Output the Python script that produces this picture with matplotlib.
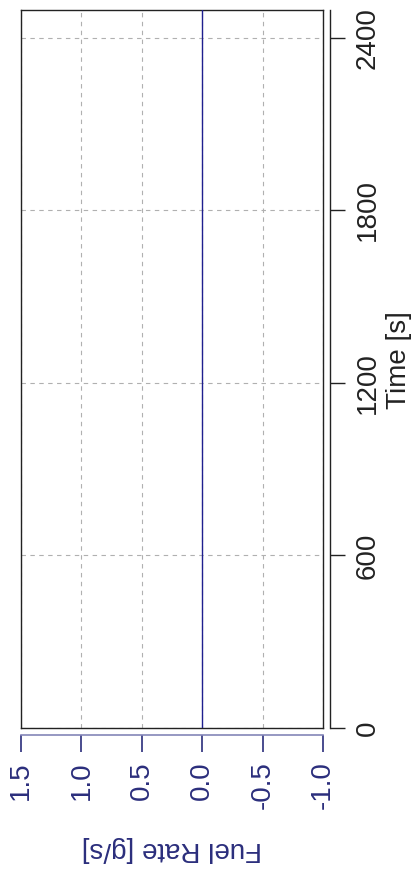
import matplotlib
matplotlib.use("Agg")
import matplotlib.pyplot as plt
import numpy as np

plt.rcParams['font.family'] = ['Liberation Sans', 'DejaVu Sans']

# Data
time_s = [0, 2500]
fuel_rate = [0.0, 0.0]
time_ticks = [0, 600, 1200, 1800, 2400]
fuel_ticks = [1.5, 1.0, 0.5, 0.0, -0.5, -1.0]
fuel_ticklabels = ["1.5", "1.0", "0.5", "0.0", "-0.5", "-1.0"]

W, H = 414, 874
fig = plt.figure(figsize=(W / 100, H / 100), dpi=100)

L, R, T, B = 21, 323, 10, 728
pos = [L / W, (H - B) / H, (R - L) / W, (B - T) / H]

navy = '#2b2e7c'

ax = fig.add_axes(pos)
ax.plot(fuel_rate, time_s, color='#1f1f8f', lw=1.0, zorder=3)
ax.set_xlim(1.5, -1.0)
ax.set_ylim(0, 2497)
ax.set_xticks(fuel_ticks)
ax.set_yticks(time_ticks)
ax.grid(True, color='#b0b0b0', ls=(0, (4, 4)), lw=0.8)
ax.tick_params(length=0, labelbottom=False, labelleft=False)
for s in ax.spines.values():
    s.set_color('#222222')
    s.set_linewidth(1.0)

# detached axes
ax2 = fig.add_axes(pos, sharex=ax, sharey=ax)
ax2.patch.set_visible(False)
for k in ['left', 'top']:
    ax2.spines[k].set_visible(False)
ax2.spines['bottom'].set_position(('outward', 5.0))
ax2.spines['bottom'].set_color('#8486b8')
ax2.spines['bottom'].set_linewidth(1.2)
ax2.spines['right'].set_position(('outward', 5.0))
ax2.spines['right'].set_color('#222222')
ax2.spines['right'].set_linewidth(1.0)
ax2.yaxis.set_ticks_position('right')
ax2.set_xticks(fuel_ticks)
ax2.set_xticklabels(fuel_ticklabels)
ax2.set_yticks(time_ticks)
ax2.set_yticklabels([str(t) for t in time_ticks])
ax2.tick_params(axis='x', direction='out', length=12, width=1.2, color=navy,
                labelcolor=navy, labelsize=20, pad=7, labelrotation=90)
ax2.tick_params(axis='y', direction='out', length=11, width=1.0, color='#222222',
                labelcolor='#222222', labelsize=20, pad=7, labelrotation=90)
for lab in ax2.get_yticklabels():
    lab.set_va('center')
    lab.set_ha('left')
ax2.grid(False)

fig.text(172 / W, 1 - 849 / H, 'Fuel Rate [g/s]', rotation=180, ha='center', va='center',
         fontsize=20, color=navy)
fig.text(399 / W, 1 - 360 / H, 'Time [s]', rotation=90, ha='center', va='center',
         fontsize=20, color='#222222')

fig.savefig('out.png', dpi=100)
